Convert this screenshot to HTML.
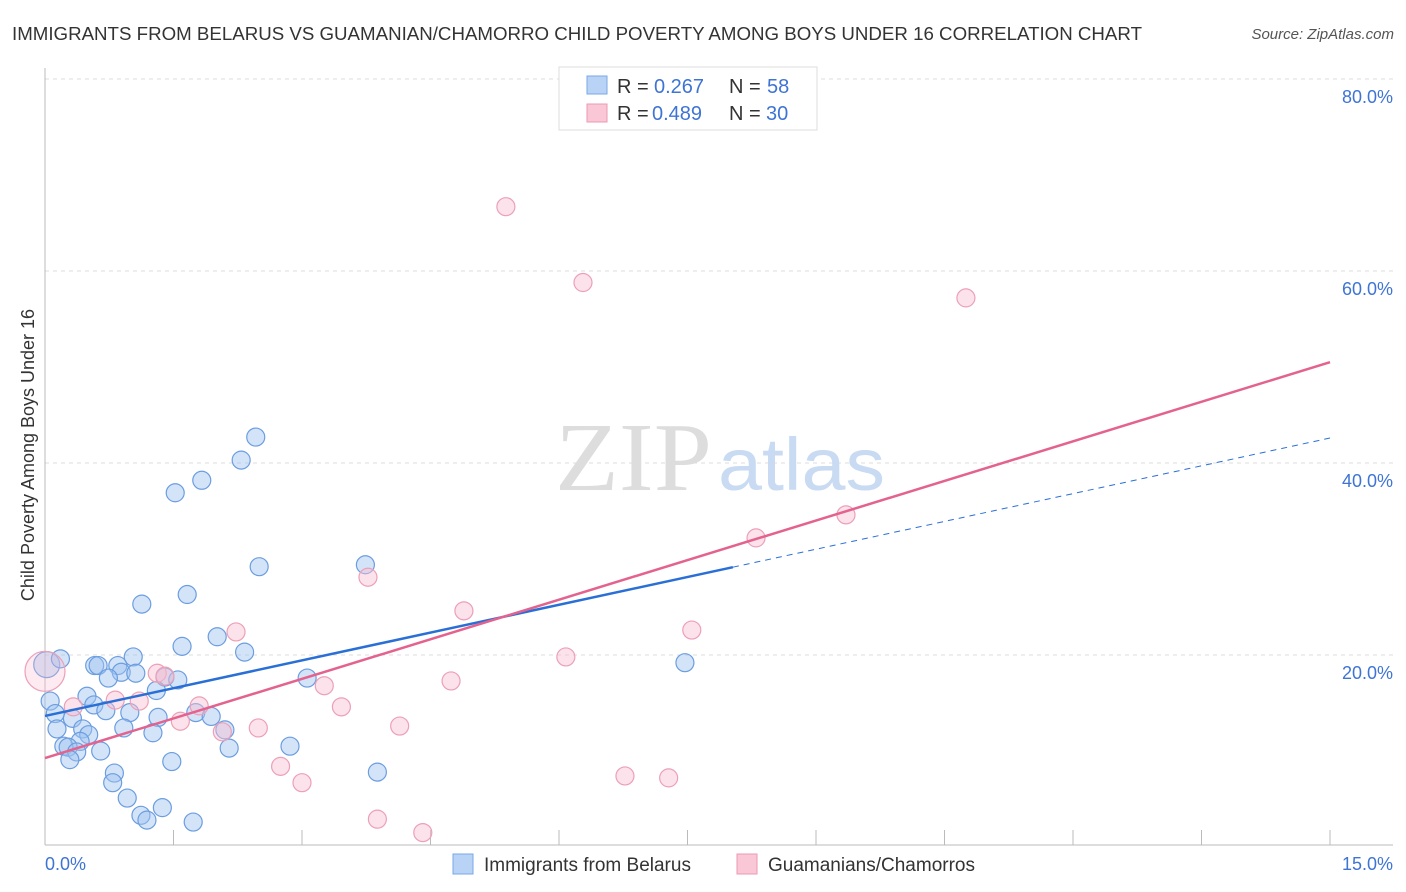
<!DOCTYPE html>
<html><head><meta charset="utf-8"><style>
body{margin:0;background:#fff;font-family:"Liberation Sans",sans-serif}
svg{display:block}
</style></head><body>
<svg id="c" width="1406" height="892" xmlns="http://www.w3.org/2000/svg">
<text x="12" y="40" font-size="18" fill="#333" textLength="1130" lengthAdjust="spacingAndGlyphs">IMMIGRANTS FROM BELARUS VS GUAMANIAN/CHAMORRO CHILD POVERTY AMONG BOYS UNDER 16 CORRELATION CHART</text>
<text x="1394" y="39" font-size="15" fill="#555" font-style="italic" text-anchor="end">Source: ZipAtlas.com</text>
<g id="grid"></g>
<text x="555" y="490" font-size="98" fill="#ddd" font-family="Liberation Serif" textLength="157" lengthAdjust="spacingAndGlyphs">ZIP</text>
<text x="718" y="490" font-size="74" fill="#c9daf3" textLength="167" lengthAdjust="spacingAndGlyphs">atlas</text>
<text transform="translate(34,455) rotate(-90)" font-size="18" fill="#333" text-anchor="middle">Child Poverty Among Boys Under 16</text>
<g id="marks"></g>
<g>
<rect x="559" y="67" width="258" height="63" fill="#fff" stroke="#ddd"/>
<rect x="587" y="76" width="20" height="18" fill="#b8d3f5" stroke="#7aa7e6"/>
<rect x="587" y="104" width="20" height="18" fill="#f9c7d6" stroke="#ec9ab4"/>
<text x="617" y="93" font-size="20" fill="#333">R =</text>
<text x="654" y="93" font-size="20" fill="#3e74d4">0.267</text>
<text x="729" y="93" font-size="20" fill="#333">N =</text>
<text x="767" y="93" font-size="20" fill="#3e74d4">58</text>
<text x="617" y="120" font-size="20" fill="#333">R =</text>
<text x="652" y="120" font-size="20" fill="#3e74d4">0.489</text>
<text x="729" y="120" font-size="20" fill="#333">N =</text>
<text x="766" y="120" font-size="20" fill="#3e74d4">30</text>
</g>
<g>
<rect x="453" y="854" width="20" height="20" fill="#b8d3f5" stroke="#7aa7e6"/>
<text x="484" y="871" font-size="19" fill="#333">Immigrants from Belarus</text>
<rect x="737" y="854" width="20" height="20" fill="#f9c7d6" stroke="#ec9ab4"/>
<text x="768" y="871" font-size="19" fill="#333">Guamanians/Chamorros</text>
</g>
</svg>
<script>
const yTicks=[20,40,60,80];
const yTickLabels=["20.0%","40.0%","60.0%","80.0%"];
const xTickLabels=["0.0%","15.0%"];
const blueX=[0.02,2.46,2.29,1.52,1.83,2.50,3.74,1.13,1.66,1.60,2.01,2.33,1.03,0.18,0.58,0.62,0.85,0.89,1.06,0.74,1.40,1.55,1.30,3.06,0.49,0.06,0.57,0.71,0.12,0.99,1.32,1.76,1.94,0.32,0.44,0.92,0.14,2.10,0.51,1.26,0.41,0.22,0.27,0.37,0.65,2.15,2.86,0.29,1.48,0.81,0.79,3.88,0.96,1.37,1.12,1.19,1.73,7.47];
const blueY=[19.0,42.7,40.3,36.9,38.2,29.2,29.4,25.3,26.3,20.9,21.9,20.3,19.8,19.6,18.9,18.9,18.9,18.2,18.1,17.6,17.7,17.4,16.3,17.6,15.7,15.2,14.8,14.2,13.9,14.0,13.5,14.0,13.6,13.4,12.3,12.4,12.3,12.2,11.7,11.9,11.0,10.5,10.4,9.9,10.0,10.3,10.5,9.1,8.9,7.7,6.7,7.8,5.1,4.1,3.3,2.8,2.6,19.2];
const pinkX=[0.0,5.38,6.28,10.75,9.35,8.30,3.77,4.89,2.23,7.55,6.08,1.31,1.40,3.26,4.74,0.82,1.10,1.80,0.33,3.46,1.58,4.14,2.49,2.07,2.75,3.00,6.77,7.28,3.88,4.41];
const pinkY=[18.3,66.7,58.8,57.2,34.6,32.2,28.1,24.6,22.4,22.6,19.8,18.1,17.8,16.8,17.3,15.3,15.2,14.7,14.6,14.6,13.1,12.6,12.4,12.0,8.4,6.7,7.4,7.2,2.9,1.5];
const blueTrend=[13.65,42.6], blueSolidEnd=8.03;
const pinkTrend=[9.27,50.5];
const X=v=>45+v*(1285/15), Y=v=>847-v*9.6;
const NS="http://www.w3.org/2000/svg";
function mk(t,a,p){const e=document.createElementNS(NS,t);for(const k in a)e.setAttribute(k,a[k]);p.appendChild(e);return e;}
const g=document.getElementById('grid'), m=document.getElementById('marks');
yTicks.forEach((t,i)=>{
 const l=mk('line',{x1:45,x2:1393,y1:Y(t),y2:Y(t),stroke:'#ddd','stroke-dasharray':'4,4'},g);
 
 
 const tx=mk('text',{x:1393,y:Y(t)+24,'font-size':18,fill:'#3e74d4','text-anchor':'end'},g);
 tx.textContent=yTickLabels[i];
 
 
});
const ax=mk('line',{x1:45,x2:45,y1:68,y2:845,stroke:'#bbb'},g);


const bx=mk('line',{x1:45,x2:1393,y1:845,y2:845,stroke:'#bbb'},g);


for(let i=1;i<=10;i++){const t=mk('line',{x1:X(i*1.5),x2:X(i*1.5),y1:830,y2:845,stroke:'#bbb'},g);
 
 }
[[0,'start',45],[1,'end',1393]].forEach(([i,a,x])=>{const t=mk('text',{x:x,y:870,'font-size':18,fill:'#3e74d4','text-anchor':a},g);t.textContent=xTickLabels[i];
 
 });
blueX.forEach((x,i)=>{const c=mk('circle',{cx:X(x),cy:Y(blueY[i]),r:i==0?13:9,fill:'rgba(160,195,240,0.45)',stroke:'#6b9de0','stroke-width':1.2},m);
 
 });
pinkX.forEach((x,i)=>{const c=mk('circle',{cx:X(x),cy:Y(pinkY[i]),r:i==0?20:9,fill:i==0?'rgba(248,190,208,0.3)':'rgba(248,190,208,0.45)',stroke:'#eca0b8','stroke-width':1.2},m);
 
 });
const by=x=>blueTrend[0]+(blueTrend[1]-blueTrend[0])*x/15;
let l=mk('line',{x1:X(0),y1:Y(by(0)),x2:X(blueSolidEnd),y2:Y(by(blueSolidEnd)),stroke:'#2a6fd6','stroke-width':2.5},m);


l=mk('line',{x1:X(blueSolidEnd),y1:Y(by(blueSolidEnd)),x2:X(15),y2:Y(by(15)),stroke:'#2a6fd6','stroke-width':1,'stroke-dasharray':'6,5'},m);


l=mk('line',{x1:X(0),y1:Y(pinkTrend[0]),x2:X(15),y2:Y(pinkTrend[1]),stroke:'#e4628e','stroke-width':2.5},m);


</script>
</body></html>
